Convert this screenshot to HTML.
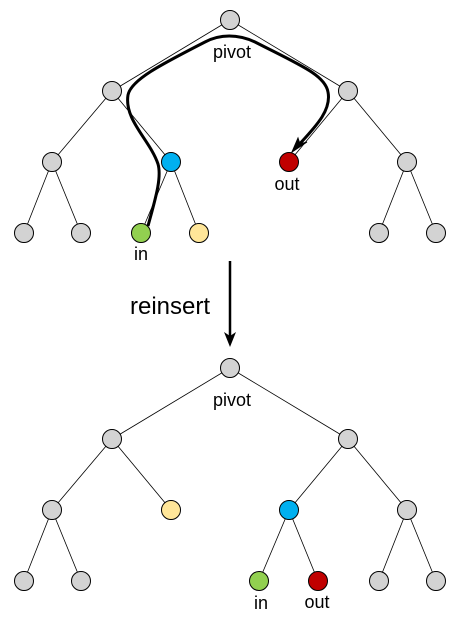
<!DOCTYPE html>
<html><head><meta charset="utf-8"><style>html,body{margin:0;padding:0;background:#fff}svg{display:block}</style></head><body>
<svg width="470" height="621" viewBox="0 0 470 621" xmlns="http://www.w3.org/2000/svg" font-family="Liberation Sans, Arial, sans-serif">
<g stroke="#000" stroke-width="0.8" fill="none">
<line x1="230" y1="20" x2="112" y2="91"/><line x1="230" y1="20" x2="348" y2="91"/>
<line x1="112" y1="91" x2="52" y2="162"/><line x1="112" y1="91" x2="171" y2="162"/>
<line x1="348" y1="91" x2="289" y2="162"/><line x1="348" y1="91" x2="407" y2="162"/>
<line x1="52" y1="162" x2="24" y2="233"/><line x1="52" y1="162" x2="81" y2="233"/>
<line x1="171" y1="162" x2="141" y2="233"/><line x1="171" y1="162" x2="199" y2="233"/>
<line x1="407" y1="162" x2="379" y2="233"/><line x1="407" y1="162" x2="436" y2="233"/>
<line x1="230" y1="368" x2="112" y2="439"/><line x1="230" y1="368" x2="348" y2="439"/>
<line x1="112" y1="439" x2="52" y2="510"/><line x1="112" y1="439" x2="171" y2="510"/>
<line x1="348" y1="439" x2="289" y2="510"/><line x1="348" y1="439" x2="407" y2="510"/>
<line x1="52" y1="510" x2="24" y2="581"/><line x1="52" y1="510" x2="81" y2="581"/>
<line x1="289" y1="510" x2="259" y2="581"/><line x1="289" y1="510" x2="318" y2="581"/>
<line x1="407" y1="510" x2="379" y2="581"/><line x1="407" y1="510" x2="436" y2="581"/>
</g>
<path d="M148,226 C155,200 162,178 158,164 C150,140 124,120 128,95 C131,80 160,65 205,42 C220,34 238,34 255,42 C300,65 325,75 328,92 C332,112 312,130 296,148" stroke="#000" stroke-width="3" fill="none"/>
<path d="M292,152 L298,138 L300,144 L307,142 Z" fill="#000" stroke="#000" stroke-width="1"/>
<g stroke="#000" stroke-width="1">
<circle cx="230" cy="20" r="9.5" fill="#d3d3d3"/>
<circle cx="112" cy="91" r="9.5" fill="#d3d3d3"/><circle cx="348" cy="91" r="9.5" fill="#d3d3d3"/>
<circle cx="52" cy="162" r="9.5" fill="#d3d3d3"/><circle cx="171" cy="162" r="9.5" fill="#00b0f0"/>
<circle cx="289" cy="162" r="9.5" fill="#c00000"/><circle cx="407" cy="162" r="9.5" fill="#d3d3d3"/>
<circle cx="24" cy="233" r="9.5" fill="#d3d3d3"/><circle cx="81" cy="233" r="9.5" fill="#d3d3d3"/>
<circle cx="141" cy="233" r="9.5" fill="#92d050"/><circle cx="199" cy="233" r="9.5" fill="#ffe699"/>
<circle cx="379" cy="233" r="9.5" fill="#d3d3d3"/><circle cx="436" cy="233" r="9.5" fill="#d3d3d3"/>
<circle cx="230" cy="368" r="9.5" fill="#d3d3d3"/>
<circle cx="112" cy="439" r="9.5" fill="#d3d3d3"/><circle cx="348" cy="439" r="9.5" fill="#d3d3d3"/>
<circle cx="52" cy="510" r="9.5" fill="#d3d3d3"/><circle cx="171" cy="510" r="9.5" fill="#ffe699"/>
<circle cx="289" cy="510" r="9.5" fill="#00b0f0"/><circle cx="407" cy="510" r="9.5" fill="#d3d3d3"/>
<circle cx="24" cy="581" r="9.5" fill="#d3d3d3"/><circle cx="81" cy="581" r="9.5" fill="#d3d3d3"/>
<circle cx="259" cy="581" r="9.5" fill="#92d050"/><circle cx="318" cy="581" r="9.5" fill="#c00000"/>
<circle cx="379" cy="581" r="9.5" fill="#d3d3d3"/><circle cx="436" cy="581" r="9.5" fill="#d3d3d3"/>
</g>
<line x1="230" y1="261" x2="230" y2="340" stroke="#000" stroke-width="2.5"/>
<path d="M224,332 L230,347 L236,332 L230,336 Z" fill="#000"/>
<g font-size="18" fill="#000" text-anchor="middle">
<text x="232" y="58">pivot</text>
<text x="287" y="190">out</text>
<text x="141" y="260">in</text>
<text x="232" y="406">pivot</text>
<text x="261" y="609">in</text>
<text x="317" y="608">out</text>
</g>
<text x="170" y="314" font-size="24" text-anchor="middle">reinsert</text>
</svg>
</body></html>
